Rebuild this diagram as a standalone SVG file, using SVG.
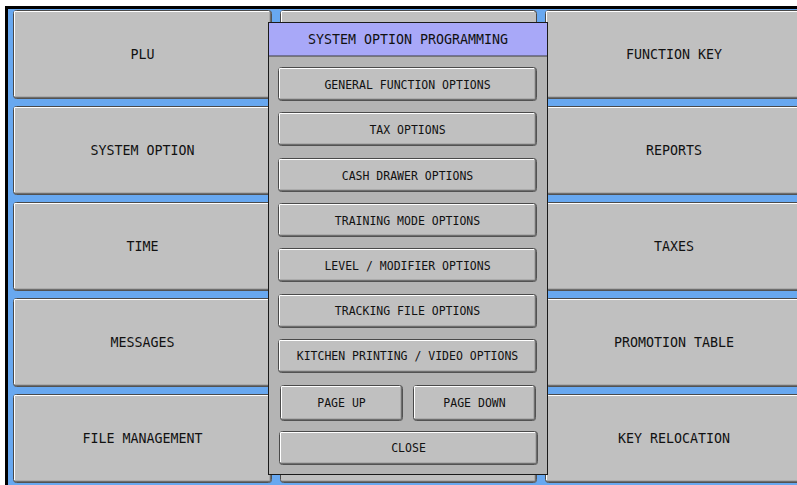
<svg xmlns="http://www.w3.org/2000/svg" width="797" height="485" viewBox="0 0 797 485">
  <style>
    .face { fill: #c0c0c0; stroke: #4a4a4a; stroke-width: 1; }
    .hi { fill: none; stroke: #ffffff; stroke-width: 1; }
    .sh { fill: none; stroke: #6e6e6e; stroke-width: 1.5; }
    .lbl { font-family: "DejaVu Sans Mono", "Liberation Mono", monospace; font-size: 13.3px; fill: #111111; text-anchor: middle; dominant-baseline: central; }
    .sm { font-family: "DejaVu Sans Mono", "Liberation Mono", monospace; font-size: 11.5px; fill: #111111; text-anchor: middle; dominant-baseline: central; }
  </style>

  <!-- screen frame -->
  <rect x="0" y="0" width="797" height="485" fill="#ffffff"/>
  <rect x="6" y="6.5" width="800" height="490" fill="#68a8f0"/>
  <path d="M6.5 485 V7.5 H797" fill="none" stroke="#000000" stroke-width="3"/>

  <!-- main menu keys -->
  <g id="key-plu">
    <rect class="face" x="13.5" y="10.5" width="258" height="88" rx="3"/>
    <path class="hi" d="M14.5 96 V11.5 H269"/>
    <path class="sh" d="M15 97.5 H270.5 V12"/>
    <text class="lbl" x="142.5" y="54.5">PLU</text>
  </g>
  <g id="key-system-option">
    <rect class="face" x="13.5" y="106.5" width="258" height="88" rx="3"/>
    <path class="hi" d="M14.5 192 V107.5 H269"/>
    <path class="sh" d="M15 193.5 H270.5 V108"/>
    <text class="lbl" x="142.5" y="150.5">SYSTEM OPTION</text>
  </g>
  <g id="key-time">
    <rect class="face" x="13.5" y="202.5" width="258" height="88" rx="3"/>
    <path class="hi" d="M14.5 288 V203.5 H269"/>
    <path class="sh" d="M15 289.5 H270.5 V204"/>
    <text class="lbl" x="142.5" y="246">TIME</text>
  </g>
  <g id="key-messages">
    <rect class="face" x="13.5" y="298.5" width="258" height="88" rx="3"/>
    <path class="hi" d="M14.5 384 V299.5 H269"/>
    <path class="sh" d="M15 385.5 H270.5 V300"/>
    <text class="lbl" x="142.5" y="342.5">MESSAGES</text>
  </g>
  <g id="key-file-management">
    <rect class="face" x="13.5" y="394.5" width="258" height="88" rx="3"/>
    <path class="hi" d="M14.5 480 V395.5 H269"/>
    <path class="sh" d="M15 481.5 H270.5 V396"/>
    <text class="lbl" x="142.5" y="438">FILE MANAGEMENT</text>
  </g>

  <!-- centre column keys (mostly hidden behind the dialog) -->
  <g id="key-mid-1">
    <rect class="face" x="280.5" y="10.5" width="256" height="88" rx="3"/>
    <path class="hi" d="M281.5 96 V11.5 H534"/>
  </g>
  <g id="key-mid-5">
    <rect class="face" x="280.5" y="394.5" width="256" height="88" rx="3"/>
    <path class="sh" d="M282 481.5 H535.5 V396"/>
  </g>

  <g id="key-function-key">
    <rect class="face" x="545.5" y="10.5" width="262" height="88" rx="3"/>
    <path class="hi" d="M546.5 96 V11.5 H806"/>
    <path class="sh" d="M547 97.5 H806"/>
    <text class="lbl" x="674" y="54.5">FUNCTION KEY</text>
  </g>
  <g id="key-reports">
    <rect class="face" x="545.5" y="106.5" width="262" height="88" rx="3"/>
    <path class="hi" d="M546.5 192 V107.5 H806"/>
    <path class="sh" d="M547 193.5 H806"/>
    <text class="lbl" x="674" y="150.5">REPORTS</text>
  </g>
  <g id="key-taxes">
    <rect class="face" x="545.5" y="202.5" width="262" height="88" rx="3"/>
    <path class="hi" d="M546.5 288 V203.5 H806"/>
    <path class="sh" d="M547 289.5 H806"/>
    <text class="lbl" x="674" y="246">TAXES</text>
  </g>
  <g id="key-promotion-table">
    <rect class="face" x="545.5" y="298.5" width="262" height="88" rx="3"/>
    <path class="hi" d="M546.5 384 V299.5 H806"/>
    <path class="sh" d="M547 385.5 H806"/>
    <text class="lbl" x="674" y="342.5">PROMOTION TABLE</text>
  </g>
  <g id="key-key-relocation">
    <rect class="face" x="545.5" y="394.5" width="262" height="88" rx="3"/>
    <path class="hi" d="M546.5 480 V395.5 H806"/>
    <path class="sh" d="M547 481.5 H806"/>
    <text class="lbl" x="674" y="438">KEY RELOCATION</text>
  </g>

  <!-- dialog -->
  <g id="dialog">
    <rect x="268.5" y="22.5" width="279" height="452" fill="#b4b4b4" stroke="#1a1a1a" stroke-width="1"/>
    <rect x="269" y="23" width="278" height="33" fill="#a8a8f8"/>
    <line x1="269" y1="56" x2="547" y2="56" stroke="#3a3a3a" stroke-width="1"/>
    <text class="lbl" x="408" y="39.5">SYSTEM OPTION PROGRAMMING</text>
  </g>

  <g id="btn-general">
    <rect class="face" x="278.5" y="67.5" width="258" height="33" rx="3"/>
    <path class="hi" d="M279.5 98 V68.5 H534"/>
    <path class="sh" d="M280 99.5 H535.5 V69"/>
    <text class="sm" x="407.5" y="85">GENERAL FUNCTION OPTIONS</text>
  </g>
  <g id="btn-tax">
    <rect class="face" x="278.5" y="112.5" width="258" height="33" rx="3"/>
    <path class="hi" d="M279.5 143 V113.5 H534"/>
    <path class="sh" d="M280 144.5 H535.5 V114"/>
    <text class="sm" x="407.5" y="130">TAX OPTIONS</text>
  </g>
  <g id="btn-cash-drawer">
    <rect class="face" x="278.5" y="158.5" width="258" height="33" rx="3"/>
    <path class="hi" d="M279.5 189 V159.5 H534"/>
    <path class="sh" d="M280 190.5 H535.5 V160"/>
    <text class="sm" x="407.5" y="175.5">CASH DRAWER OPTIONS</text>
  </g>
  <g id="btn-training">
    <rect class="face" x="278.5" y="203.5" width="258" height="33" rx="3"/>
    <path class="hi" d="M279.5 234 V204.5 H534"/>
    <path class="sh" d="M280 235.5 H535.5 V205"/>
    <text class="sm" x="407.5" y="220.5">TRAINING MODE OPTIONS</text>
  </g>
  <g id="btn-level">
    <rect class="face" x="278.5" y="248.5" width="258" height="33" rx="3"/>
    <path class="hi" d="M279.5 279 V249.5 H534"/>
    <path class="sh" d="M280 280.5 H535.5 V250"/>
    <text class="sm" x="407.5" y="265.5">LEVEL / MODIFIER OPTIONS</text>
  </g>
  <g id="btn-tracking">
    <rect class="face" x="278.5" y="294.5" width="258" height="33" rx="3"/>
    <path class="hi" d="M279.5 325 V295.5 H534"/>
    <path class="sh" d="M280 326.5 H535.5 V296"/>
    <text class="sm" x="407.5" y="311">TRACKING FILE OPTIONS</text>
  </g>
  <g id="btn-kitchen">
    <rect class="face" x="278.5" y="339.5" width="258" height="33" rx="3"/>
    <path class="hi" d="M279.5 370 V340.5 H534"/>
    <path class="sh" d="M280 371.5 H535.5 V341"/>
    <text class="sm" x="407.5" y="356">KITCHEN PRINTING / VIDEO OPTIONS</text>
  </g>
  <g id="btn-page-up">
    <rect class="face" x="280.5" y="385.5" width="122" height="35" rx="3"/>
    <path class="hi" d="M281.5 418 V386.5 H400"/>
    <path class="sh" d="M282 419.5 H401.5 V387"/>
    <text class="sm" x="341.5" y="403">PAGE UP</text>
  </g>
  <g id="btn-page-down">
    <rect class="face" x="413.5" y="385.5" width="122" height="35" rx="3"/>
    <path class="hi" d="M414.5 418 V386.5 H533"/>
    <path class="sh" d="M415 419.5 H534.5 V387"/>
    <text class="sm" x="474.5" y="403">PAGE DOWN</text>
  </g>
  <g id="btn-close">
    <rect class="face" x="279.5" y="431.5" width="258" height="33" rx="3"/>
    <path class="hi" d="M280.5 462 V432.5 H535"/>
    <path class="sh" d="M281 463.5 H536.5 V433"/>
    <text class="sm" x="408.5" y="448">CLOSE</text>
  </g>

  <g id="connectors"/>
</svg>
